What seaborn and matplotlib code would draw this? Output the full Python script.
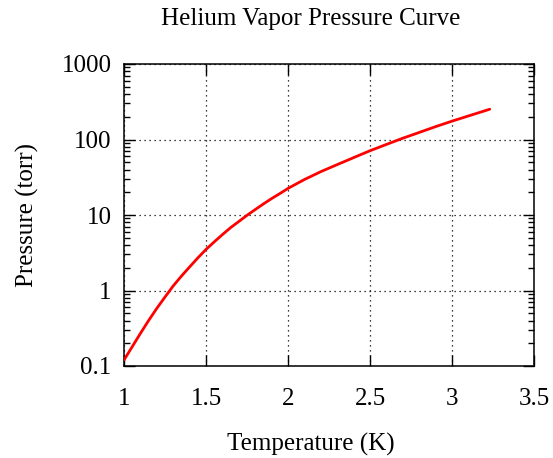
import numpy as np
import pandas as pd
import matplotlib
matplotlib.use("Agg")
import matplotlib.pyplot as plt
import seaborn as sns
from matplotlib.ticker import LogLocator, FixedLocator, NullLocator

# Helium-4 saturated vapor pressure
temperature_k = [1.0, 1.05, 1.1, 1.15, 1.2, 1.25, 1.3, 1.35, 1.4, 1.45, 1.5, 1.55,
                 1.6, 1.65, 1.7, 1.75, 1.8, 1.85, 1.9, 1.95, 2.0, 2.1, 2.2, 2.3,
                 2.4, 2.5, 2.6, 2.7, 2.8, 2.9, 3.0, 3.1, 3.2, 3.23]
pressure_torr = [0.12, 0.18, 0.27, 0.40, 0.58, 0.82, 1.15, 1.55, 2.05, 2.7, 3.5, 4.4,
                 5.5, 6.8, 8.2, 9.9, 11.8, 14.0, 16.5, 19.2, 22.5, 29.5, 37.5, 46.5,
                 57.5, 71.0, 86.0, 104.0, 124.0, 148.0, 175.0, 205.0, 240.0, 252.0]

x_ticks = [1, 1.5, 2, 2.5, 3, 3.5]
x_tick_labels = ["1", "1.5", "2", "2.5", "3", "3.5"]
y_ticks = [0.1, 1, 10, 100, 1000]
y_tick_labels = ["0.1", "1", "10", "100", "1000"]

df = pd.DataFrame({"Temperature (K)": temperature_k, "Pressure (torr)": pressure_torr})

sns.set_style("ticks")
plt.rcParams["font.family"] = ["Liberation Serif", "DejaVu Serif"]
plt.rcParams["text.color"] = "black"
plt.rcParams["axes.labelcolor"] = "black"
FS = 18

fig = plt.figure(figsize=(5.53, 4.58), dpi=100)
ax = fig.add_axes([124 / 553, 1 - 366 / 458, 410 / 553, 302 / 458])

sns.lineplot(data=df, x="Temperature (K)", y="Pressure (torr)", ax=ax,
             color="#ff0000", linewidth=2.0, zorder=3)

ax.set_yscale("log")
ax.set_xlim(1, 3.5)
ax.set_ylim(0.1, 1000)

ax.xaxis.set_major_locator(FixedLocator(x_ticks))
ax.set_xticklabels(x_tick_labels)
ax.xaxis.set_minor_locator(NullLocator())
ax.yaxis.set_major_locator(FixedLocator(y_ticks))
ax.set_yticklabels(y_tick_labels)
ax.yaxis.set_minor_locator(LogLocator(base=10, subs=np.arange(2, 10)))
ax.yaxis.set_minor_formatter(plt.NullFormatter())

ax.tick_params(which="both", direction="in", top=True, right=True, colors="black",
               labelcolor="black", labelsize=FS)
ax.tick_params(which="major", length=8, width=1.0)
ax.tick_params(which="minor", length=4.5, width=1.0)
ax.tick_params(axis="x", which="major", pad=16)
ax.tick_params(axis="y", which="major", pad=9)

for sp in ax.spines.values():
    sp.set_visible(True)
    sp.set_linewidth(1.1)
    sp.set_color("black")

ax.grid(True, which="major", color="black", linestyle=(0, (1, 3)), linewidth=0.9)

ax.set_xlabel("Temperature (K)", fontsize=FS, color="black")
ax.set_ylabel("Pressure (torr)", fontsize=FS, color="black")
ax.xaxis.set_label_coords((311 - 124) / 410, -0.222)
ax.yaxis.set_label_coords((39 - 124) / 410, 0.5)

ax.set_title("Helium Vapor Pressure Curve", fontsize=FS, pad=0, color="black",
             x=(311 - 124) / 410, y=1 + (64 - 19) / 302, va="center")

fig.savefig("out.png", dpi=100)
